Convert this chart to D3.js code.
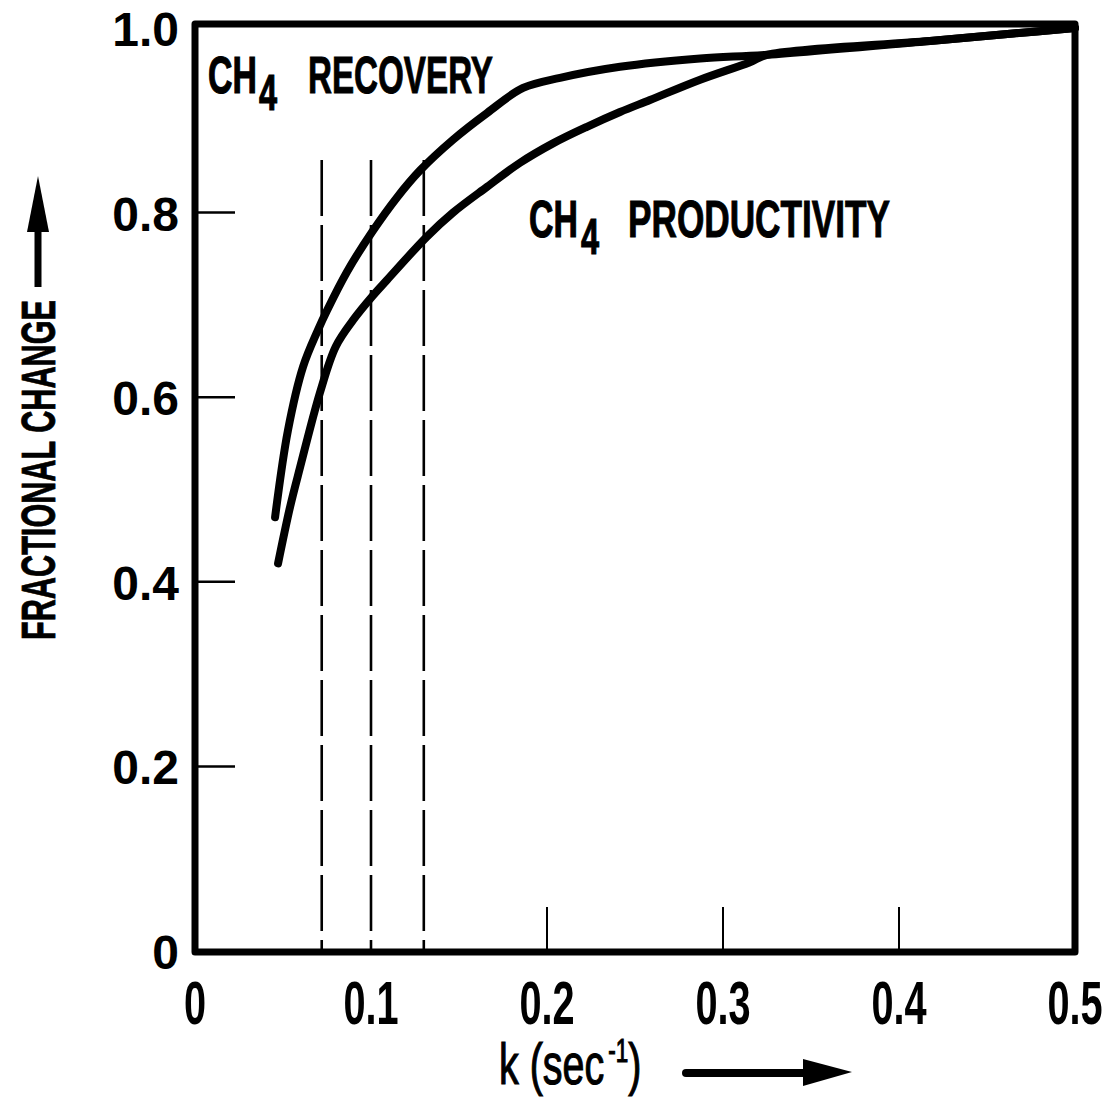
<!DOCTYPE html>
<html>
<head>
<meta charset="utf-8">
<script src="https://cdn.jsdelivr.net/npm/d3@7"></script>
<style>
  html, body { margin: 0; padding: 0; background: #fff; }
  svg { display: block; }
  text { font-family: "Liberation Sans", Arial, sans-serif; font-weight: bold; fill: #000; }
</style>
</head>
<body>
<svg id="chart" width="1104" height="1099"></svg>
<script>
// Rate constant k (sec^-1) and the fractional change of CH4 recovery / productivity
const kTicks = [0, 0.1, 0.2, 0.3, 0.4, 0.5];
const kTickLabels = ["0", "0.1", "0.2", "0.3", "0.4", "0.5"];
const fracTicks = [0, 0.2, 0.4, 0.6, 0.8, 1.0];
const fracTickLabels = ["0", "0.2", "0.4", "0.6", "0.8", "1.0"];
const kInnerTicks = [0.2, 0.3, 0.4];
const fracInnerTicks = [0.2, 0.4, 0.6, 0.8];

// reference k values marked with dashed verticals
const markedK = [0.072, 0.1, 0.13];
const markedTop = 0.857;

const recoveryK    = [0.0455, 0.0528, 0.0614, 0.0699, 0.075, 0.0864, 0.1006, 0.115, 0.128, 0.1466, 0.166, 0.1864, 0.2074, 0.2415, 0.287, 0.325, 0.4176, 0.4648, 0.5];
const recoveryFrac = [0.470, 0.564, 0.633, 0.673, 0.694, 0.736, 0.779, 0.817, 0.846, 0.879, 0.908, 0.935, 0.946, 0.958, 0.967, 0.971, 0.986, 0.994, 1.0];

const productivityK    = [0.0472, 0.054, 0.0597, 0.071, 0.08, 0.09, 0.1006, 0.1091, 0.1318, 0.1466, 0.166, 0.1847, 0.2034, 0.2227, 0.2415, 0.2585, 0.287, 0.3153, 0.325, 0.4176, 0.4648, 0.5];
const productivityFrac = [0.420, 0.481, 0.524, 0.605, 0.655, 0.684, 0.709, 0.727, 0.774, 0.800, 0.828, 0.854, 0.875, 0.893, 0.909, 0.922, 0.944, 0.963, 0.971, 0.986, 0.994, 1.0];

const svg = d3.select("#chart");

const x = d3.scaleLinear().domain([0, 0.5]).range([195, 1075]);
const y = d3.scaleLinear().domain([0, 1]).range([951, 28]);

// plot frame
svg.append("rect")
  .attr("x", x(0)).attr("y", y(1) - 4)
  .attr("width", x(0.5) - x(0)).attr("height", y(0) - y(1) + 5)
  .attr("fill", "none").attr("stroke", "#000").attr("stroke-width", 7)
  .attr("stroke-linejoin", "round");

// inner ticks on the left edge
svg.selectAll("line.ytick").data(fracInnerTicks).join("line")
  .attr("class", "ytick")
  .attr("x1", x(0)).attr("x2", x(0) + 40)
  .attr("y1", d => y(d)).attr("y2", d => y(d))
  .attr("stroke", "#000").attr("stroke-width", 2.5);

// inner ticks on the bottom edge
svg.selectAll("line.xtick").data(kInnerTicks).join("line")
  .attr("class", "xtick")
  .attr("x1", d => x(d)).attr("x2", d => x(d))
  .attr("y1", y(0)).attr("y2", y(0) - 44)
  .attr("stroke", "#000").attr("stroke-width", 2);

// dashed verticals
svg.selectAll("line.mark").data(markedK).join("line")
  .attr("class", "mark")
  .attr("x1", d => x(d)).attr("x2", d => x(d))
  .attr("y1", y(markedTop)).attr("y2", y(0))
  .attr("stroke", "#000").attr("stroke-width", 2.6)
  .attr("stroke-dasharray", "56,9");

// curves
const line = d3.line()
  .x(d => x(d[0])).y(d => y(d[1]))
  .curve(d3.curveCatmullRom.alpha(0.5));

const series = [
  d3.zip(recoveryK, recoveryFrac),
  d3.zip(productivityK, productivityFrac)
];
svg.selectAll("path.curve").data(series).join("path")
  .attr("class", "curve")
  .attr("d", line)
  .attr("fill", "none").attr("stroke", "#000").attr("stroke-width", 8)
  .attr("stroke-linecap", "round").attr("stroke-linejoin", "round");

// y tick labels
svg.selectAll("text.ylab").data(fracTicks).join("text")
  .attr("class", "ylab")
  .attr("x", 179).attr("y", d => y(d) + 18)
  .attr("text-anchor", "end")
  .attr("font-size", 48)
  .text((d, i) => fracTickLabels[i]);

// x tick labels (condensed)
svg.selectAll("text.xlab").data(kTicks).join("text")
  .attr("class", "xlab")
  .attr("transform", d => `translate(${x(d)},1024) scale(0.64,1)`)
  .attr("text-anchor", "middle")
  .attr("font-size", 62)
  .text((d, i) => kTickLabels[i]);

// series labels: "CH" with a lowered "4", then the name
function chemLabel(x0, base, subX, nameX, nameW, name) {
  const sx = 0.65;
  const t = svg.append("text")
    .attr("transform", `translate(${x0},${base}) scale(${sx},1)`)
    .attr("font-size", 52)
    .attr("stroke", "#000").attr("stroke-width", 1.2);
  t.append("tspan").attr("x", 0).attr("y", 0).text("CH");
  t.append("tspan").attr("x", (subX - x0) / sx).attr("y", 17).attr("font-size", 50).text("4");
  svg.append("text")
    .attr("x", nameX).attr("y", base)
    .attr("font-size", 52)
    .attr("stroke", "#000").attr("stroke-width", 1)
    .attr("textLength", nameW).attr("lengthAdjust", "spacingAndGlyphs")
    .text(name);
}
chemLabel(208, 93, 259, 308, 185, "RECOVERY");
chemLabel(529, 237, 581, 628, 262, "PRODUCTIVITY");

// axis titles
svg.append("text")
  .attr("transform", "translate(55,470) rotate(-90)")
  .attr("text-anchor", "middle")
  .attr("font-size", 48)
  .attr("stroke", "#000").attr("stroke-width", 0.8)
  .attr("textLength", 340).attr("lengthAdjust", "spacingAndGlyphs")
  .text("FRACTIONAL CHANGE");

const kTitle = svg.append("text")
  .attr("transform", "translate(499,1084) scale(0.68,1)")
  .attr("font-size", 58)
  .style("font-weight", "normal")
  .attr("stroke", "#000").attr("stroke-width", 1.2);
kTitle.append("tspan").text("k (sec");
kTitle.append("tspan").attr("font-size", 33).attr("dy", -22).attr("dx", 6).text("-1");
kTitle.append("tspan").attr("font-size", 58).attr("dy", 22).text(")");

// direction arrows
svg.append("path")
  .attr("d", "M38,287 L38,228")
  .attr("stroke", "#000").attr("stroke-width", 7);
svg.append("path")
  .attr("d", "M38,176 L49,232 L27,232 Z")
  .attr("fill", "#000");

svg.append("path")
  .attr("d", "M686,1073 L808,1073")
  .attr("stroke", "#000").attr("stroke-width", 8)
  .attr("stroke-linecap", "round");
svg.append("path")
  .attr("d", "M852,1072 L803,1059 L803,1086 Z")
  .attr("fill", "#000");
</script>
</body>
</html>
